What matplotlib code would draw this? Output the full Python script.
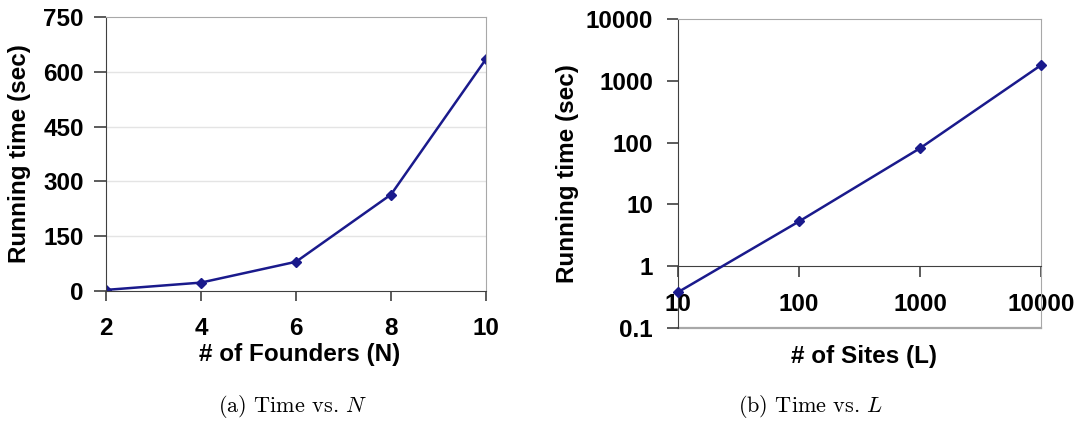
import matplotlib
matplotlib.use("Agg")
import matplotlib.pyplot as plt
from matplotlib.ticker import FixedLocator, FixedFormatter

# Time vs number of founders
founders = [2, 4, 6, 8, 10]
time_founders = [3, 23, 80, 264, 635]

# Time vs number of sites (log-log)
sites = [10, 100, 1000, 10000]
time_sites = [0.38, 5.3, 81, 1790]
site_ticks = ["10", "100", "1000", "10000"]
time_ticks = [0.1, 1, 10, 100, 1000, 10000]
time_tick_labels = ["0.1", "1", "10", "100", "1000", "10000"]

plt.rcParams["font.family"] = ["Liberation Sans", "DejaVu Sans"]
plt.rcParams["mathtext.fontset"] = "cm"

W, H = 1083, 441
fig = plt.figure(figsize=(W / 100, H / 100), dpi=100)

line_color = "#1a1a8c"
dark = "#404040"
light = "#a8a8a8"
fs = 17.5

# ---- (a) ----
ax1 = fig.add_axes([106 / W, 1 - 291 / H, 380 / W, 274 / H])
ax1.plot(founders, time_founders, color=line_color, lw=1.8, marker="D", ms=5)
ax1.set_xlim(2, 10)
ax1.set_ylim(0, 750)
ax1.set_xticks(founders)
ax1.set_yticks([0, 150, 300, 450, 600, 750])
for y in [150, 300, 450, 600]:
    ax1.axhline(y, color="#e4e4e4", lw=1, zorder=0)
ax1.spines["left"].set_color(dark)
ax1.spines["bottom"].set_color(dark)
ax1.spines["top"].set_color(light)
ax1.spines["right"].set_color(light)
ax1.tick_params(axis="y", length=9, width=1.2, color=dark, pad=7, labelsize=fs)
ax1.tick_params(axis="x", length=7, width=1.2, color=dark, pad=12, labelsize=fs)
for lab in ax1.get_xticklabels() + ax1.get_yticklabels():
    lab.set_fontweight("bold")
ax1.set_ylabel("Running time (sec)", fontsize=fs, fontweight="bold", labelpad=9)
fig.text(300 / W, 1 - 355 / H, "# of Founders (N)", fontsize=fs, fontweight="bold",
         ha="center", va="center")

# ---- (b) ----
ax2 = fig.add_axes([678 / W, 1 - 328 / H, 363 / W, 309 / H])
ax2.plot(sites, time_sites, color=line_color, lw=1.8, marker="D", ms=5.5, clip_on=False, zorder=5)
ax2.set_xscale("log")
ax2.set_yscale("log")
ax2.set_xlim(10, 10000)
ax2.set_ylim(0.1, 10000)
ax2.xaxis.set_major_locator(FixedLocator(sites))
ax2.xaxis.set_major_formatter(FixedFormatter(site_ticks))
ax2.xaxis.set_minor_locator(FixedLocator([]))
ax2.yaxis.set_major_locator(FixedLocator(time_ticks))
ax2.yaxis.set_major_formatter(FixedFormatter(time_tick_labels))
ax2.yaxis.set_minor_locator(FixedLocator([]))
ax2.spines["bottom"].set_position(("data", 1))
ax2.spines["bottom"].set_color(dark)
ax2.spines["left"].set_color(dark)
ax2.spines["top"].set_color(light)
ax2.spines["right"].set_color(light)
ax2.axhline(0.1, color=light, lw=1.6, clip_on=False, zorder=1)
ax2.tick_params(axis="y", length=8, width=1.2, color=dark, pad=10, labelsize=fs)
ax2.tick_params(axis="x", length=8, width=1.2, color=dark, pad=11, labelsize=fs)
for lab in ax2.get_xticklabels() + ax2.get_yticklabels():
    lab.set_fontweight("bold")
ax2.set_ylabel("Running time (sec)", fontsize=fs, fontweight="bold", labelpad=5)
fig.text(864 / W, 1 - 356 / H, "# of Sites (L)", fontsize=fs, fontweight="bold",
         ha="center", va="center")

# captions
fig.text(293 / W, 1 - 406 / H, r"(a) Time vs. $N$", family="cmr10", fontsize=16,
         ha="center", va="center")
fig.text(811 / W, 1 - 406 / H, r"(b) Time vs. $L$", family="cmr10", fontsize=16,
         ha="center", va="center")

fig.savefig("out.png", dpi=100)
